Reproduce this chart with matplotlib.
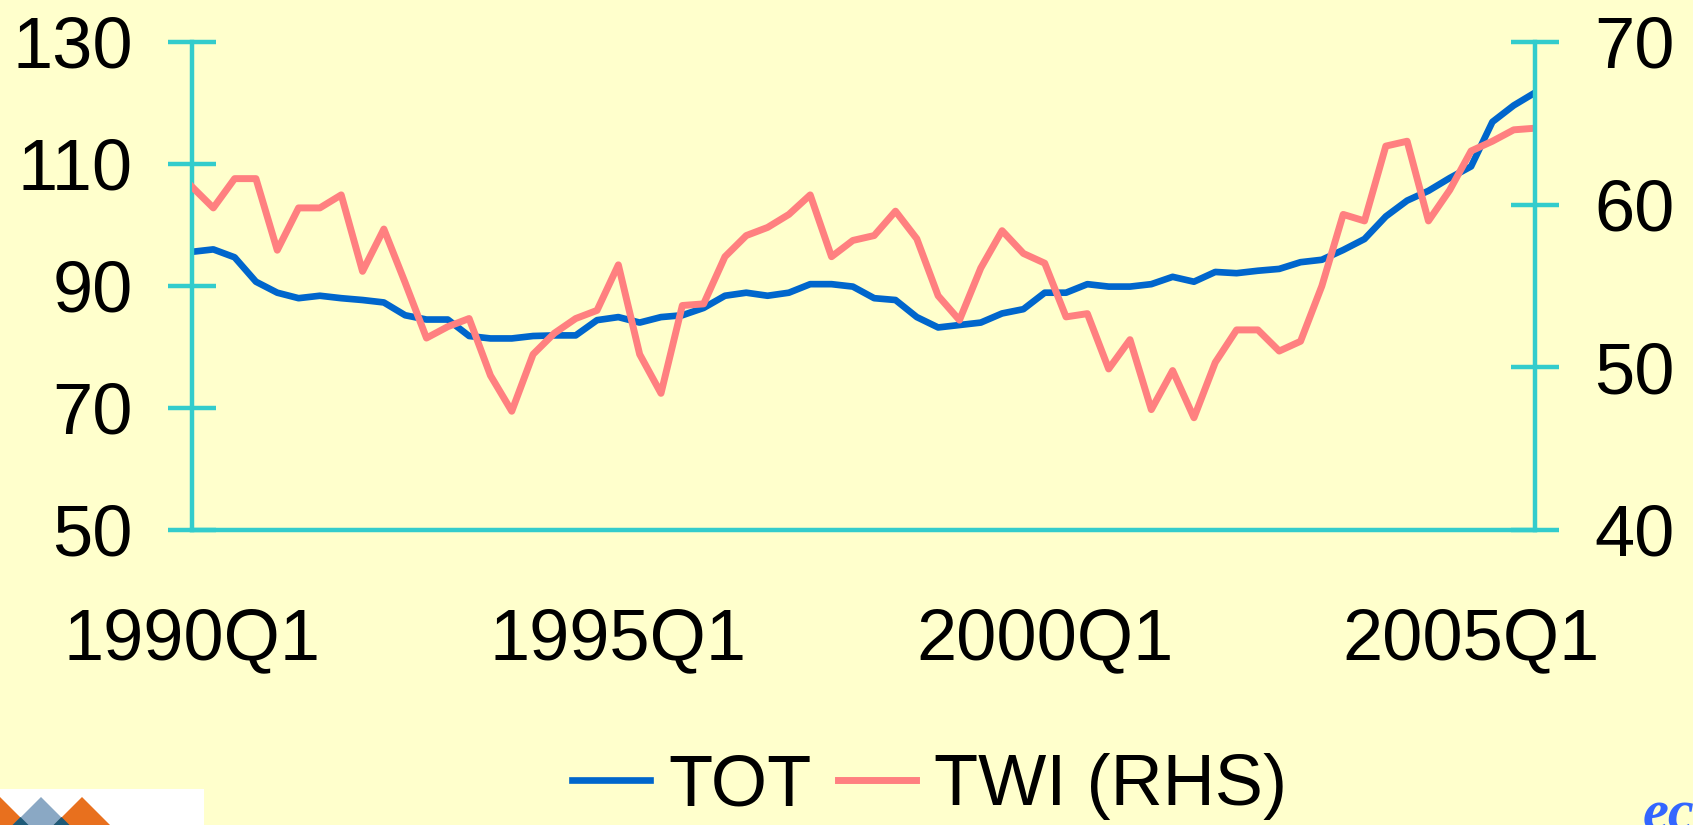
import numpy as np
import matplotlib
matplotlib.use("Agg")
import matplotlib.pyplot as plt
from matplotlib.patches import Rectangle, Polygon

plt.rcParams['font.family'] = ['Liberation Sans', 'DejaVu Sans']

# quarterly data, 1990Q1 .. 2005Q4
tot = [95.6, 96.0, 94.7, 90.7, 88.9, 88.0, 88.4, 88.0, 87.7, 87.3, 85.2, 84.5, 84.5, 81.8, 81.4, 81.4,
       81.8, 81.9, 81.9, 84.4, 84.9, 84.0, 84.9, 85.2, 86.4, 88.4, 88.9, 88.4, 88.9, 90.3, 90.3, 89.9,
       88.0, 87.7, 84.9, 83.2, 83.6, 84.0, 85.5, 86.2, 88.9, 88.9, 90.3, 89.9, 89.9, 90.3, 91.5, 90.7,
       92.3, 92.1, 92.5, 92.8, 93.9, 94.3, 95.9, 97.7, 101.4, 104.0, 105.6, 107.7, 109.6, 116.9, 119.6, 121.7]
twi = [61.1, 59.8, 61.6, 61.6, 57.2, 59.8, 59.8, 60.6, 55.9, 58.5, 55.2, 51.8, 52.5, 53.0, 49.5, 47.3,
       50.8, 52.1, 53.0, 53.5, 56.3, 50.8, 48.4, 53.8, 53.9, 56.8, 58.1, 58.6, 59.4, 60.6, 56.8, 57.8,
       58.1, 59.6, 57.9, 54.4, 52.9, 56.1, 58.4, 57.0, 56.4, 53.1, 53.3, 49.9, 51.7, 47.4, 49.8, 46.9,
       50.3, 52.3, 52.3, 51.0, 51.6, 55.0, 59.4, 59.0, 63.6, 63.9, 59.0, 60.9, 63.3, 63.9, 64.6, 64.7]
xtick_pos = [0, 20, 40, 60]
xtick_labels = ['1990Q1', '1995Q1', '2000Q1', '2005Q1']
left_ticks = [50, 70, 90, 110, 130]
right_ticks = [40, 50, 60, 70]

bg = '#FFFFCC'
axis_col = '#33CCCC'
blue = '#0066CC'
pink = '#FF8080'
fs = 52

fig = plt.figure(figsize=(16.93, 8.25), dpi=100, facecolor=bg)
ax = fig.add_axes([0.1134, 0.3576, 0.7933, 0.5915])
ax.set_facecolor(bg)
ax2 = ax.twinx()

x = np.arange(len(tot))
l1, = ax.plot(x, tot, color=blue, lw=4.8, solid_joinstyle='round', label='TOT')
l2, = ax2.plot(x, twi, color=pink, lw=5.0, solid_joinstyle='round', label='TWI (RHS)')

ax.set_xlim(0, len(tot) - 1)
ax.set_ylim(50, 130)
ax2.set_ylim(40, 70)

for s in ['top', 'right']:
    ax.spines[s].set_visible(False)
for s in ['top', 'left', 'bottom']:
    ax2.spines[s].set_visible(False)
for sp in [ax.spines['left'], ax.spines['bottom'], ax2.spines['right']]:
    sp.set_color(axis_col)
    sp.set_linewidth(3.2)

ax.set_yticks(left_ticks)
ax2.set_yticks(right_ticks)
ax.tick_params(axis='y', direction='inout', length=35, width=3.2, color=axis_col,
               labelsize=fs, pad=25)
ax2.tick_params(axis='y', direction='inout', length=35, width=3.2, color=axis_col,
                labelsize=fs, pad=25)
ax.set_xticks(xtick_pos)
ax.set_xticklabels(xtick_labels)
ax.tick_params(axis='x', length=0, labelsize=fs, pad=56)

fig.legend([l1, l2], ['TOT', 'TWI (RHS)'], loc='center', bbox_to_anchor=(930 / 1693, 1 - 787 / 825),
           frameon=False, fontsize=fs, ncol=2, handlelength=1.08, handletextpad=0.25,
           columnspacing=0.37, borderpad=0)

# logo fragment bottom-left (pixel coords -> figure fraction)
W, H = 1693.0, 825.0
def fp(px, py):
    return (px / W, 1 - py / H)

fig.patches.append(Rectangle(fp(0, 825), 204 / W, 36 / H, transform=fig.transFigure,
                             facecolor='white', edgecolor='none'))
for apex, col in [(0, '#E8701E'), (41, '#8AA8C4'), (82, '#E8701E')]:
    pts = [fp(apex, 797), fp(apex - 30, 827), fp(apex + 30, 827)]
    fig.patches.append(Polygon(pts, closed=True, transform=fig.transFigure,
                               facecolor=col, edgecolor='none'))
for c in [20.5, 61.5]:
    pts = [fp(c, 817), fp(c - 10, 827), fp(c + 10, 827)]
    fig.patches.append(Polygon(pts, closed=True, transform=fig.transFigure,
                               facecolor='#1E5A78', edgecolor='none'))

# cut-off text bottom-right
fig.text(1643 / W, 1 - 829 / H, 'ec', color='#3366FF', fontsize=42, fontstyle='italic',
         fontweight='bold', family='Liberation Serif', ha='left', va='baseline')

fig.savefig('out.png', dpi=100, facecolor=bg)
